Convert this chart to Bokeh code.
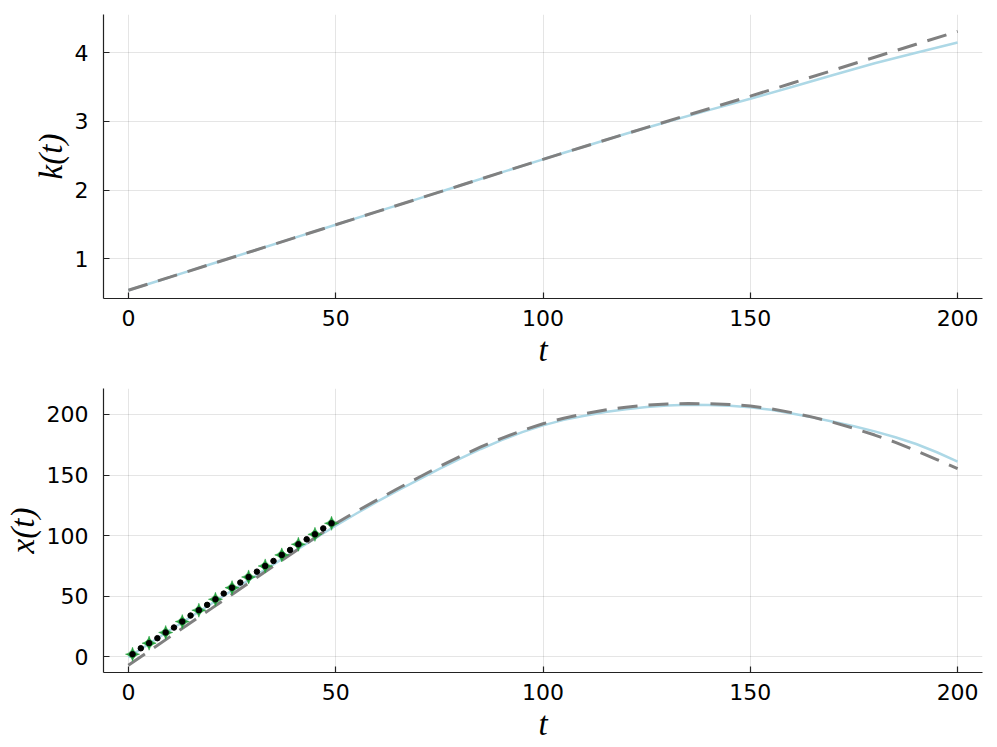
import math
from bokeh.plotting import figure
from bokeh.layouts import column
from bokeh.models import Range1d, FixedTicker
from bokeh.embed import file_html
from bokeh.resources import INLINE

# ---------------- data ----------------
t_k = [0, 10, 20, 30, 40, 50, 60, 70, 80, 90, 100,
       110, 120, 130, 140, 150, 160, 170, 180, 190, 200]

k_model = [0.545, 0.735, 0.926, 1.116, 1.307, 1.497, 1.688, 1.878, 2.068, 2.259, 2.449,
           2.635, 2.82, 2.995, 3.165, 3.33, 3.50, 3.675, 3.845, 4.0, 4.149]
k_ref = [0.545, 0.735, 0.926, 1.116, 1.307, 1.497, 1.688, 1.878, 2.068, 2.259, 2.449,
         2.635, 2.82, 3.003, 3.185, 3.367, 3.556, 3.745, 3.934, 4.122, 4.31]

t_x = [0, 5, 10, 15, 20, 25, 30, 35, 40, 45, 50, 55, 60, 65, 70, 75, 80, 85, 90, 95, 100,
       105, 110, 115, 120, 125, 130, 135, 140, 145, 150, 155, 160, 165, 170, 175, 180,
       185, 190, 195, 200]

x_model = [-0.3, 10.8, 21.9, 32.9, 43.8, 54.7, 65.5, 76.3, 87.0, 97.6, 108.2,
           118.3, 128.0, 137.3, 146.3, 155.0, 163.5, 171.5, 178.8, 185.4, 191.0,
           195.5, 199.0, 202.0, 204.3, 206.1, 207.3, 207.9, 207.8, 207.2, 206.0,
           203.8, 200.8, 197.6, 194.0, 190.2, 186.0, 181.2, 175.6, 168.8, 161.0]
x_ref = [-6.9, 4.8, 16.5, 28.2, 39.8, 51.5, 63.2, 74.9, 86.6, 98.3, 110.0,
         120.0, 129.5, 138.9, 148.0, 157.0, 165.3, 173.2, 180.3, 186.8, 192.3,
         196.9, 200.6, 203.7, 206.0, 207.6, 208.6, 209.0, 208.8, 208.2, 207.0,
         204.6, 201.5, 197.8, 193.5, 188.5, 183.0, 177.0, 170.0, 162.8, 155.2]

t_obs = [1, 3, 5, 7, 9, 11, 13, 15, 17, 19, 21, 23, 25,
         27, 29, 31, 33, 35, 37, 39, 41, 43, 45, 47, 49]
x_obs = [2.2, 7.1, 11.3, 15.4, 20.1, 24.2, 29.1, 34.1, 38.5, 42.9, 47.5, 52.2, 57.1,
         61.3, 65.9, 70.3, 75.0, 79.1, 84.1, 88.2, 92.9, 97.0, 101.1, 106.0, 110.2]

t_star = [1, 5, 9, 13, 17, 21, 25, 29, 33, 37, 41, 45, 49]
x_star = [2.2, 11.3, 20.1, 29.1, 38.5, 47.5, 57.1, 65.9, 75.0, 84.1, 92.9, 101.1, 110.2]

t_ticks = [0, 50, 100, 150, 200]
k_ticks = [1, 2, 3, 4]
x_ticks = [0, 50, 100, 150, 200]

# ---------------- styling ----------------
TICK_FONT = "DejaVu Sans"
LABEL_FONT = "Liberation Serif"
BLUE = "#add8e6"
GRAY = "#808080"


def style(p, xlabel, ylabel, yticks):
    p.outline_line_color = None
    p.background_fill_color = "white"
    p.border_fill_color = "white"
    p.xaxis.ticker = FixedTicker(ticks=t_ticks)
    p.yaxis.ticker = FixedTicker(ticks=yticks)
    for ax in (p.xaxis, p.yaxis):
        ax.axis_line_color = "#222222"
        ax.axis_line_width = 1.2
        ax.major_tick_in = 6
        ax.major_tick_out = 0
        ax.major_tick_line_color = "#222222"
        ax.major_tick_line_width = 1.2
        ax.minor_tick_line_color = None
        ax.major_label_text_font = TICK_FONT
        ax.major_label_text_font_size = "22px"
        ax.major_label_text_color = "black"
        ax.axis_label_text_font = LABEL_FONT
        ax.axis_label_text_font_style = "italic"
        ax.axis_label_text_font_size = "33px"
        ax.axis_label_text_color = "black"
    p.xaxis.axis_label = xlabel
    p.yaxis.axis_label = ylabel
    p.xaxis.major_label_standoff = 11
    p.xaxis.axis_label_standoff = 3
    p.yaxis.major_label_standoff = 15
    p.yaxis.axis_label_standoff = 3
    p.yaxis.major_label_orientation = "horizontal"
    for g in (p.xgrid, p.ygrid):
        g.grid_line_color = "black"
        g.grid_line_alpha = 0.1
        g.grid_line_width = 1
    p.xgrid.ticker = FixedTicker(ticks=t_ticks)
    p.ygrid.ticker = FixedTicker(ticks=yticks)


p1 = figure(width=996, height=380, output_backend="svg", toolbar_location=None,
            x_range=Range1d(-6, 206), y_range=Range1d(0.425, 4.555),
            min_border_left=103, min_border_right=14, min_border_top=14, min_border_bottom=82)
style(p1, "t", "k(t)", k_ticks)
p1.line(t_k, k_model, line_color=BLUE, line_width=2.5)
p1.line(t_k, k_ref, line_color=GRAY, line_width=3, line_dash="20 11")

p2 = figure(width=996, height=366, output_backend="svg", toolbar_location=None,
            x_range=Range1d(-6, 206), y_range=Range1d(-12.9, 221.4),
            min_border_left=103, min_border_right=14, min_border_top=8, min_border_bottom=74)
style(p2, "t", "x(t)", x_ticks)
p2.line(t_x, x_model, line_color=BLUE, line_width=2.5)
p2.line(t_x, x_ref, line_color=GRAY, line_width=3, line_dash="20 11")
p2.scatter(t_star, x_star, marker="square_pin", size=10, angle=math.pi / 4,
           fill_color="#23a03c", line_color="#23a03c", line_width=0.5)
p2.scatter(t_obs, x_obs, marker="circle", size=5.5, fill_color="black", line_color="black")

layout = column(p1, p2, spacing=0)
open("out.html", "w").write(file_html(layout, INLINE))
